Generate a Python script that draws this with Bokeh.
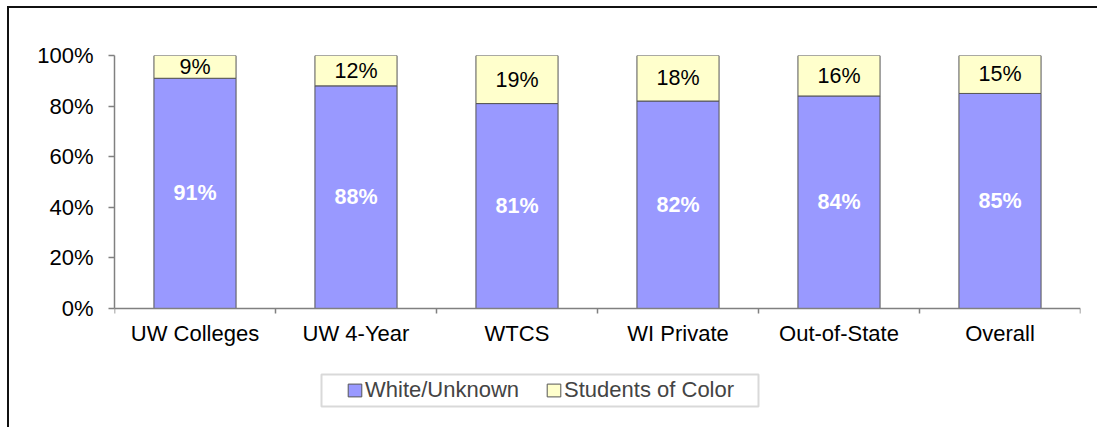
from bokeh.plotting import figure
from bokeh.models import (ColumnDataSource, FixedTicker, Range1d, Legend, LegendItem,
                          NumeralTickFormatter, BoxAnnotation)
from bokeh.embed import file_html
from bokeh.resources import INLINE
from bokeh.core.properties import value

categories = ["UW Colleges", "UW 4-Year", "WTCS", "WI Private", "Out-of-State", "Overall"]
white_unknown = [91, 88, 81, 82, 84, 85]
students_of_color = [9, 12, 19, 18, 16, 15]
y_ticks = [0, 20, 40, 60, 80, 100]

FONT = "Liberation Sans"
FS = "22px"
FS_LBL = "21.5px"

x = [i + 0.5 for i in range(len(categories))]
w = [v / 100 for v in white_unknown]
c = [v / 100 for v in students_of_color]
src = ColumnDataSource(dict(
    x=x, w=w, c=c,
    top=[a + b for a, b in zip(w, c)],
    wl=[f"{v}%" for v in white_unknown],
    cl=[f"{v}%" for v in students_of_color],
    wy=[a / 2 for a in w],
    cy=[a + b / 2 for a, b in zip(w, c)],
))

# layout: 253 px for 0..100 %, frame extends below the axis to hold labels + legend
PLOT_H = 253
FRAME_H = 372
y_start = -(FRAME_H - PLOT_H) / PLOT_H

p = figure(frame_width=966, frame_height=FRAME_H,
           min_border_left=105, min_border_top=47, min_border_right=17, min_border_bottom=0,
           x_range=Range1d(0, len(categories)), y_range=Range1d(y_start, 1),
           output_backend="svg", toolbar_location=None)
p.styles = {"border-top": "2px solid #111111", "border-left": "2px solid #111111",
            "margin-left": "7px", "margin-top": "6px"}
p.outline_line_color = None
p.xgrid.visible = False
p.ygrid.visible = False
p.background_fill_color = "white"
p.border_fill_color = "white"

r1 = p.vbar(x="x", width=0.51, bottom=0, top="w", source=src,
            fill_color="#9999FF", line_color="#555555", line_width=1)
r2 = p.vbar(x="x", width=0.51, bottom="w", top="top", source=src,
            fill_color="#FFFFCC", line_color="#555555", line_width=1)

p.text(x="x", y="wy", text="wl", source=src, text_color="white",
       text_font=value(FONT), text_font_style="bold", text_font_size=FS_LBL,
       text_align="center", text_baseline="middle")
p.text(x="x", y="cy", text="cl", source=src, text_color="black",
       text_font=value(FONT), text_font_size=FS_LBL,
       text_align="center", text_baseline="middle")

xa = p.xaxis[0]
xa.fixed_location = 0
xa.ticker = FixedTicker(ticks=x, minor_ticks=list(range(len(categories) + 1)))
xa.major_label_overrides = {xi: cat for xi, cat in zip(x, categories)}
xa.axis_line_color = "#808080"
xa.axis_line_width = 1.5
xa.major_tick_line_color = None
xa.major_tick_out = 0
xa.minor_tick_line_color = "#808080"
xa.minor_tick_line_width = 1.5
xa.minor_tick_out = 5
xa.minor_tick_in = 0
xa.major_label_text_font = FONT
xa.major_label_text_font_size = FS
xa.major_label_text_color = "black"
xa.major_label_standoff = 7

ya = p.yaxis[0]
ya.bounds = (0, 1)
ya.ticker = FixedTicker(ticks=[t / 100 for t in y_ticks])
ya.formatter = NumeralTickFormatter(format="0%")
ya.axis_line_color = "#808080"
ya.axis_line_width = 1.5
ya.major_tick_line_color = "#808080"
ya.major_tick_line_width = 1.5
ya.major_tick_out = 6
ya.major_tick_in = 0
ya.minor_tick_line_color = None
ya.major_label_text_font = FONT
ya.major_label_text_font_size = FS
ya.major_label_text_color = "black"
ya.major_label_standoff = 15

# legend frame (Excel-style wide box)
p.add_layout(BoxAnnotation(left=310, right=747, top=364, bottom=396,
                           left_units="canvas", right_units="canvas",
                           top_units="canvas", bottom_units="canvas",
                           fill_color="white", fill_alpha=1,
                           line_color="#808080", line_width=2, level="annotation"))

legend = Legend(items=[LegendItem(label="White/Unknown", renderers=[r1]),
                       LegendItem(label="Students of Color", renderers=[r2])],
                orientation="horizontal", location=(229, 21),
                border_line_alpha=0, background_fill_alpha=0,
                label_text_font=FONT, label_text_font_size=FS,
                glyph_width=17, glyph_height=16, label_standoff=2,
                spacing=26, padding=3, margin=0)
p.add_layout(legend, "center")

open("out.html", "w").write(file_html(p, INLINE))
